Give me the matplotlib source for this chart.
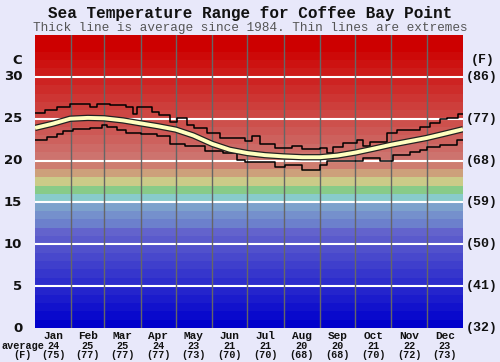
import matplotlib
matplotlib.use("Agg")
import matplotlib.pyplot as plt
import matplotlib.transforms as mtransforms
import numpy as np

# ---------------- data ----------------
months = ["Jan", "Feb", "Mar", "Apr", "May", "Jun", "Jul", "Aug", "Sep", "Oct", "Nov", "Dec"]
month_days = [31, 28, 31, 30, 31, 30, 31, 31, 30, 31, 30, 31]
avg_c_labels = ["24", "25", "25", "24", "23", "21", "21", "20", "20", "21", "22", "23"]
avg_f_labels = ["(75)", "(77)", "(77)", "(77)", "(73)", "(70)", "(70)", "(68)", "(68)", "(70)", "(72)", "(73)"]
c_ticks = [0, 5, 10, 15, 20, 25, 30]
f_labels = ["(32)", "(41)", "(50)", "(59)", "(68)", "(77)", "(86)"]

avg_days = [0, 15, 30, 45, 59, 75, 90, 105, 120, 135, 151, 166, 181, 196, 212, 228, 243, 258, 273, 288, 304, 319, 334, 349, 365]
avg_vals = [23.9, 24.4, 25.0, 25.1, 25.05, 24.8, 24.45, 24.1, 23.7, 23.0, 22.0, 21.3, 20.9, 20.65, 20.5, 20.4, 20.4, 20.6, 20.95, 21.4, 21.9, 22.3, 22.7, 23.2, 23.75]

upper_days = [0, 8.5, 19, 30, 47, 53, 64, 78, 84, 87, 100, 106, 115, 121, 130, 136, 147, 158, 179, 185, 192, 205, 219, 228, 243, 249, 254, 263, 275, 280, 286, 300, 309, 328, 337, 345, 351, 361, 365]
upper_vals = [25.7, 26.1, 26.4, 26.7, 26.4, 26.8, 26.6, 26.4, 25.6, 26.4, 25.8, 25.4, 24.6, 25.05, 24.3, 23.85, 23.25, 22.7, 22.3, 22.9, 22.0, 21.45, 21.75, 21.35, 21.55, 20.95, 21.65, 22.05, 22.4, 21.8, 22.25, 23.25, 23.65, 24.0, 24.45, 24.95, 25.05, 25.55, 25.55]

lower_days = [0, 10, 19, 24, 32, 47, 57, 61, 70, 78, 90, 104, 115, 128, 145, 160, 172, 179, 205, 213, 228, 243, 249, 260, 271, 280, 294, 305, 320, 328, 334, 345, 360, 365]
lower_vals = [22.4, 22.85, 23.2, 23.55, 23.75, 23.95, 24.25, 24.0, 23.65, 23.35, 23.15, 22.95, 22.0, 21.8, 21.2, 20.85, 20.1, 19.8, 19.2, 19.45, 18.85, 19.5, 20.0, 19.9, 19.95, 20.25, 19.95, 20.65, 21.05, 21.25, 21.65, 21.85, 22.4, 22.4]

# ---------------- figure ----------------
bg = "#e8e8fa"
fig = plt.figure(figsize=(5.0, 3.62), dpi=100, facecolor=bg)
ax = fig.add_axes([0.07, 0.0939, 0.856, 0.8094])
ax.set_xlim(0, 365)
ax.set_ylim(0, 35)
for s in ax.spines.values():
    s.set_visible(False)
ax.set_xticks([])
ax.set_yticks([])

# background colour bands (1 degree each)
def band_color(i):
    if i <= 14:
        if i <= 11:
            r, g = 9 * i, 9 * i
        else:
            r, g = {12: (108, 128), 13: (117, 144), 14: (125, 162)}[i]
        return (r / 255, g / 255, 204 / 255)
    special = {15: (136, 203, 203), 16: (136, 203, 136), 17: (203, 203, 136),
               18: (205, 160, 123), 19: (206, 125, 112)}
    if i in special:
        r, g, b = special[i]
        return (r / 255, g / 255, b / 255)
    t = min((i - 20) / 13.0, 1.0)
    g = 115 * (1 - t)
    b = 110 * (1 - t)
    return (205 / 255, g / 255, b / 255)

for i in range(35):
    ax.axhspan(i, i + 1, color=band_color(i), lw=0, zorder=0)

# white horizontal lines
for t in c_ticks[1:]:
    ax.axhline(t, color="white", lw=1.5, zorder=1)

# month boundaries
bounds = np.concatenate([[0], np.cumsum(month_days)])
for b in bounds[1:-1]:
    ax.axvline(b, color="#666666", lw=1.0, zorder=1)

# extremes
ax.plot(upper_days, upper_vals, drawstyle="steps-post", color="black", lw=1.1, zorder=3)
ax.plot(lower_days, lower_vals, drawstyle="steps-post", color="black", lw=1.1, zorder=3)
# average
ax.plot(avg_days, avg_vals, color="#222222", lw=4.6, zorder=4, solid_capstyle="butt")
ax.plot(avg_days, avg_vals, color="#ffffc0", lw=2.8, zorder=5, solid_capstyle="butt")

# titles
fig.text(0.5, 0.963, "Sea Temperature Range for Coffee Bay Point", ha="center", va="center",
         family="Liberation Mono", fontweight="bold", fontsize=11.5, color="#111111")
fig.text(0.5, 0.922, "Thick line is average since 1984. Thin lines are extremes", ha="center",
         va="center", family="Liberation Mono", fontsize=9.2, color="#555555")

# y labels
tr_l = mtransforms.blended_transform_factory(ax.transAxes, ax.transData)
for t, fl in zip(c_ticks, f_labels):
    ax.text(-0.030, t, str(t), transform=tr_l, ha="right", va="center",
            fontsize=9.5, fontweight="bold", color="#111111")
    ax.text(1.007, t, fl, transform=tr_l, ha="left", va="center",
            family="Liberation Mono", fontsize=9.5, fontweight="bold", color="#111111")
ax.text(-0.030, 32.0, "C", transform=tr_l, ha="right", va="center",
        fontsize=9.5, fontweight="bold", color="#111111")
ax.text(1.018, 32.0, "(F)", transform=tr_l, ha="left", va="center",
        family="Liberation Mono", fontsize=9.5, fontweight="bold", color="#111111")

# month labels
tr_m = mtransforms.blended_transform_factory(ax.transData, ax.transAxes)
centers = (bounds[:-1] + bounds[1:]) / 2
for c, m, a, f in zip(centers, months, avg_c_labels, avg_f_labels):
    ax.text(c, -0.027, m, transform=tr_m, ha="center", va="center",
            family="Liberation Mono", fontweight="bold", fontsize=8, color="#111111")
    ax.text(c, -0.061, a, transform=tr_m, ha="center", va="center",
            family="Liberation Mono", fontweight="bold", fontsize=7.3, color="#111111")
    ax.text(c, -0.092, f, transform=tr_m, ha="center", va="center",
            family="Liberation Mono", fontweight="bold", fontsize=7.3, color="#111111")
fig.text(0.004, 0.044, "average", ha="left", va="center", family="Liberation Mono",
         fontweight="bold", fontsize=7.3, color="#111111")
fig.text(0.044, 0.019, "(F)", ha="center", va="center", family="Liberation Mono",
         fontweight="bold", fontsize=7.3, color="#111111")

fig.savefig("out.png", dpi=100, facecolor=bg)
